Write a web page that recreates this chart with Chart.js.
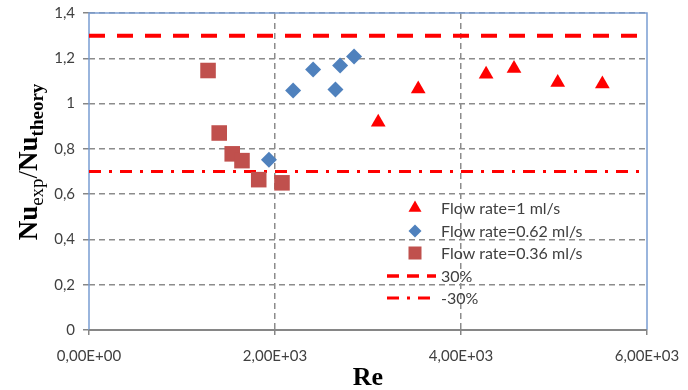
<!DOCTYPE html>
<html>
<head>
<meta charset="utf-8">
<script src="https://cdn.jsdelivr.net/npm/chart.js@4.4.0/dist/chart.umd.min.js"></script>
<style>
  html, body { margin: 0; padding: 0; background: #ffffff; }
  #wrap { width: 688px; height: 390px; }
</style>
</head>
<body>
<div id="wrap"><canvas id="c" width="688" height="390"></canvas></div>
<script>
// Measured Nusselt ratio against Reynolds number, three flow rates
const reFlow1 = [3110, 3540, 4270, 4570, 5040, 5520];
const nuFlow1 = [0.917, 1.064, 1.130, 1.155, 1.093, 1.086];

const reFlow062 = [1935, 2195, 2410, 2650, 2700, 2850];
const nuFlow062 = [0.752, 1.058, 1.150, 1.062, 1.168, 1.208];

const reFlow036 = [1280, 1400, 1540, 1645, 1825, 2075];
const nuFlow036 = [1.146, 0.870, 0.778, 0.748, 0.664, 0.650];

// ±30 % deviation bands
const bandLevels = [1.3, 0.7];
const bandRe = [0, 6000];

const seriesNames = ['Flow rate=1 ml/s', 'Flow rate=0.62 ml/s', 'Flow rate=0.36 ml/s', '30%', '-30%'];
const xTickLabels = ['0,00E+00', '2,00E+03', '4,00E+03', '6,00E+03'];
const yTickLabels = ['0', '0,2', '0,4', '0,6', '0,8', '1', '1,2', '1,4'];

const RED = '#ff0000';
const BLUE = '#4f81bd';
const BRICK = '#c0504d';
const FRAME = '#7a9dd2';
const GRID = '#8c8c8c';
const TICK_FONT = { family: 'Lato', size: 15 };
const TEXT = '#404040';

const pts = (xs, ys) => xs.map((x, i) => ({ x: x, y: ys[i] }));
const band = (v) => bandRe.map(x => ({ x: x, y: v }));

// Frame, axis titles and an inset legend
const decorations = {
  id: 'decorations',
  beforeDatasetsDraw(chart) {
    const { ctx, chartArea: a } = chart;
    ctx.save();
    ctx.lineWidth = 1.5;
    ctx.strokeStyle = FRAME;
    ctx.beginPath();
    ctx.moveTo(a.left, a.bottom);
    ctx.lineTo(a.left, a.top);
    ctx.lineTo(a.right, a.top);
    ctx.lineTo(a.right, a.bottom);
    ctx.stroke();
    ctx.lineWidth = 2;
    ctx.strokeStyle = '#868686';
    ctx.beginPath();
    ctx.moveTo(a.left, a.bottom);
    ctx.lineTo(a.right, a.bottom);
    ctx.stroke();
    ctx.restore();
  },
  afterDraw(chart) {
    const { ctx, chartArea: a } = chart;
    ctx.save();

    // x title
    ctx.fillStyle = '#000000';
    ctx.font = 'bold 26px "Liberation Serif"';
    ctx.textAlign = 'center';
    ctx.textBaseline = 'middle';
    ctx.fillText('Re', (a.left + a.right) / 2, 378);

    // y title with subscripts
    const parts = [
      { t: 'Nu', f: 'bold 27px "Liberation Serif"', dy: 0 },
      { t: 'exp', f: '19px "Liberation Serif"', dy: 6 },
      { t: '/', f: '27px "Liberation Serif"', dy: 0 },
      { t: 'Nu', f: 'bold 27px "Liberation Serif"', dy: 0 },
      { t: 'theory', f: 'bold 19px "Liberation Serif"', dy: 6 }
    ];
    let total = 0;
    parts.forEach(p => { ctx.font = p.f; p.w = ctx.measureText(p.t).width; total += p.w; });
    ctx.translate(37, 162);
    ctx.rotate(-Math.PI / 2);
    ctx.textAlign = 'left';
    ctx.textBaseline = 'alphabetic';
    let x = -total / 2;
    parts.forEach(p => {
      ctx.font = p.f;
      ctx.fillText(p.t, x, p.dy);
      x += p.w;
    });
    ctx.setTransform(1, 0, 0, 1, 0, 0);

    // legend
    const lx = 415, tx = 441, rows = [208, 231, 253, 276, 298];
    ctx.font = '16px Lato';
    ctx.fillStyle = TEXT;
    ctx.textAlign = 'left';
    ctx.textBaseline = 'middle';
    rows.forEach((y, i) => ctx.fillText(seriesNames[i], tx, y + 1));

    // triangle
    let r = 7.5, y = rows[0];
    ctx.fillStyle = RED;
    ctx.beginPath();
    for (let k = 0; k < 3; k++) {
      const ang = k * 2 * Math.PI / 3;
      const px = lx + Math.sin(ang) * r, py = y - Math.cos(ang) * r;
      k ? ctx.lineTo(px, py) : ctx.moveTo(px, py);
    }
    ctx.closePath();
    ctx.fill();
    // diamond
    r = 6.5; y = rows[1];
    ctx.fillStyle = BLUE;
    ctx.beginPath();
    ctx.moveTo(lx, y - r); ctx.lineTo(lx + r, y); ctx.lineTo(lx, y + r); ctx.lineTo(lx - r, y);
    ctx.closePath();
    ctx.fill();
    // square
    y = rows[2];
    ctx.fillStyle = BRICK;
    ctx.fillRect(lx - 6.5, y - 6.5, 13, 13);
    // band samples
    ctx.strokeStyle = RED;
    ctx.lineWidth = 3.5;
    ctx.setLineDash([12, 8]);
    ctx.beginPath(); ctx.moveTo(387, rows[3]); ctx.lineTo(436, rows[3]); ctx.stroke();
    ctx.lineWidth = 3;
    ctx.setLineDash([12, 8, 3, 8]);
    ctx.beginPath(); ctx.moveTo(387, rows[4]); ctx.lineTo(436, rows[4]); ctx.stroke();
    ctx.restore();
  }
};

new Chart(document.getElementById('c'), {
  type: 'scatter',
  data: {
    datasets: [
      { label: seriesNames[0], data: pts(reFlow1, nuFlow1), pointStyle: 'triangle', pointRadius: 8.5,
        backgroundColor: RED, borderColor: RED, borderWidth: 0 },
      { label: seriesNames[1], data: pts(reFlow062, nuFlow062), pointStyle: 'rectRot', pointRadius: 8,
        backgroundColor: BLUE, borderColor: BLUE, borderWidth: 0 },
      { label: seriesNames[2], data: pts(reFlow036, nuFlow036), pointStyle: 'rect', pointRadius: 11,
        backgroundColor: BRICK, borderColor: BRICK, borderWidth: 0 },
      { type: 'line', label: seriesNames[3], data: band(bandLevels[0]), borderColor: RED, borderWidth: 4,
        borderDash: [16, 12], pointRadius: 0, fill: false },
      { type: 'line', label: seriesNames[4], data: band(bandLevels[1]), borderColor: RED, borderWidth: 3,
        borderDash: [12, 8, 3, 8], pointRadius: 0, fill: false }
    ]
  },
  options: {
    responsive: false,
    animation: false,
    devicePixelRatio: 1,
    layout: { padding: { top: 13, right: 41, left: 0, bottom: 0 } },
    plugins: { legend: { display: false }, tooltip: { enabled: false } },
    scales: {
      x: {
        type: 'linear', min: 0, max: 6000,
        afterFit(s) { s.height = 60; s.paddingLeft = 0; s.paddingRight = 0; },
        ticks: { stepSize: 2000, color: TEXT, font: TICK_FONT, padding: 12, maxRotation: 0,
          callback: (v, i) => xTickLabels[i] },
        grid: {
          color: (c) => (c.index === 0 || c.index === 3) ? 'rgba(0,0,0,0)' : GRID,
          lineWidth: 1.5, tickLength: 5, tickColor: '#868686', tickBorderDash: [], tickWidth: 1.5
        },
        border: { display: false, dash: [6, 4] }
      },
      y: {
        min: 0, max: 1.4,
        afterFit(s) { s.width = 89; s.paddingTop = 0; s.paddingBottom = 0; },
        ticks: { stepSize: 0.2, color: TEXT, font: TICK_FONT, padding: 8,
          callback: (v, i) => yTickLabels[i] },
        grid: { color: GRID, lineWidth: 1.5, tickLength: 6, tickColor: '#868686', tickBorderDash: [], tickWidth: 1.5 },
        border: { display: false, dash: [6, 4] }
      }
    }
  },
  plugins: [decorations]
});
</script>
</body>
</html>
